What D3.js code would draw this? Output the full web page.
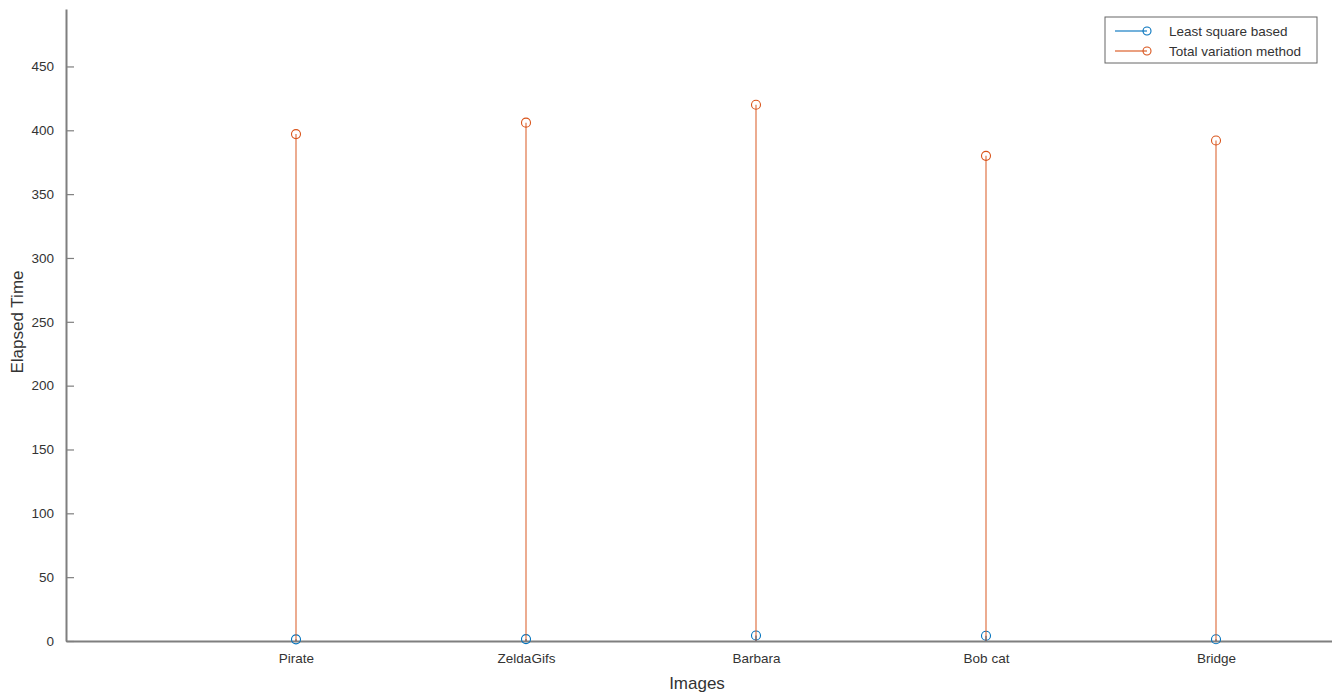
<!DOCTYPE html>
<html>
<head>
<meta charset="utf-8">
<script src="https://cdn.jsdelivr.net/npm/d3@7"></script>
<style>
  html, body { margin: 0; padding: 0; background: #fff; }
  svg { display: block; font-family: "Liberation Sans", Arial, sans-serif; }
</style>
</head>
<body>
<svg id="chart" width="1332" height="693"></svg>
<script>
// Elapsed time per test image for the two restoration methods
const images = ["Pirate", "ZeldaGifs", "Barbara", "Bob cat", "Bridge"];
const leastSquare = [1.3, 1.5, 4.3, 4.1, 1.4];
const totalVariation = [397, 406, 420, 380, 392];
const yTicks = [0, 50, 100, 150, 200, 250, 300, 350, 400, 450];
const seriesNames = ["Least square based", "Total variation method"];
const seriesColors = ["#0072BD", "#D95319"];

const svg = d3.select("#chart");

// x positions are image indices 1..5 on a 0..6 axis
const x = d3.scaleLinear().domain([0, 6]).range([66, 1446]);
const y = d3.scaleLinear().domain([0, 495]).range([641, 9]);

const axisColor = "#7f7f7f";
const textColor = "#333";
const fontFamily = "'Liberation Sans', Arial, sans-serif";

// Y axis
const yAxis = svg.append("g")
  .attr("transform", `translate(${x(0)},0)`)
  .call(d3.axisLeft(y).tickValues(yTicks).tickSizeInner(-8).tickSizeOuter(0).tickPadding(12));
yAxis.select(".domain").attr("stroke", axisColor).attr("stroke-width", 2);
yAxis.selectAll(".tick line").attr("stroke", axisColor).attr("stroke-width", 1.2);
yAxis.selectAll(".tick text")
  .attr("fill", textColor).style("font-size", "13.5px").style("font-family", fontFamily);

// X axis
const xAxis = svg.append("g")
  .attr("transform", `translate(0,${y(0)})`)
  .call(d3.axisBottom(x).tickValues([1, 2, 3, 4, 5])
    .tickFormat((d) => images[d - 1]).tickSizeInner(0).tickSizeOuter(0).tickPadding(12));
xAxis.select(".domain").attr("stroke", axisColor).attr("stroke-width", 2);
xAxis.selectAll(".tick text")
  .attr("fill", textColor).style("font-size", "13.5px").style("font-family", fontFamily);

// Axis titles
svg.append("text")
  .attr("x", 697).attr("y", 689)
  .attr("text-anchor", "middle")
  .attr("fill", textColor).style("font-size", "17px")
  .text("Images");
svg.append("text")
  .attr("transform", "translate(23,322) rotate(-90)")
  .attr("text-anchor", "middle")
  .attr("fill", textColor).style("font-size", "17px")
  .text("Elapsed Time");

// Stem series
const series = [leastSquare, totalVariation];
series.forEach((vals, si) => {
  const g = svg.append("g");
  g.selectAll("line.stem")
    .data(vals)
    .join("line")
    .attr("class", "stem")
    .attr("x1", (d, i) => x(i + 1)).attr("x2", (d, i) => x(i + 1))
    .attr("y1", y(0)).attr("y2", (d) => y(d))
    .attr("stroke", seriesColors[si]).attr("stroke-width", 1.2)
    .attr("opacity", si === 1 ? 0.8 : 1);
  g.selectAll("circle")
    .data(vals)
    .join("circle")
    .attr("cx", (d, i) => x(i + 1))
    .attr("cy", (d) => y(d))
    .attr("r", 4.5)
    .attr("fill", "none")
    .attr("stroke", seriesColors[si])
    .attr("stroke-width", 1.1);
});

// Legend
const legend = svg.append("g");
legend.append("rect")
  .attr("x", 1105).attr("y", 17).attr("width", 212).attr("height", 46)
  .attr("fill", "#fff").attr("stroke", "#666").attr("stroke-width", 1);
seriesNames.forEach((name, i) => {
  const ly = 31 + i * 20;
  legend.append("line")
    .attr("x1", 1115).attr("x2", 1147).attr("y1", ly).attr("y2", ly)
    .attr("stroke", seriesColors[i]).attr("stroke-width", 1.1);
  legend.append("circle")
    .attr("cx", 1147).attr("cy", ly).attr("r", 4)
    .attr("fill", "none").attr("stroke", seriesColors[i]).attr("stroke-width", 1.1);
  legend.append("text")
    .attr("x", 1169).attr("y", ly + 4.5)
    .attr("fill", textColor).style("font-size", "13.5px")
    .text(name);
});
</script>
</body>
</html>
